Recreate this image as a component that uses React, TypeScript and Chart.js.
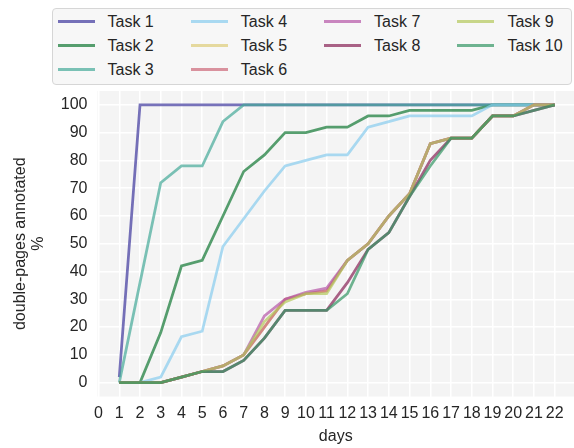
import React, { useEffect, useRef } from 'react';
import { Chart, registerables } from 'chart.js';

Chart.register(...registerables);

const days = [1, 2, 3, 4, 5, 6, 7, 8, 9, 10, 11, 12, 13, 14, 15, 16, 17, 18, 19, 20, 21, 22];

const task1 = [2, 100, 100, 100, 100, 100, 100, 100, 100, 100, 100, 100, 100, 100, 100, 100, 100, 100, 100, 100, 100, 100];
const task2 = [0, 0, 18, 42, 44, 60, 76, 82, 90, 90, 92, 92, 96, 96, 98, 98, 98, 98, 100, 100, 100, 100];
const task3 = [0, 36, 72, 78, 78, 94, 100, 100, 100, 100, 100, 100, 100, 100, 100, 100, 100, 100, 100, 100, 100, 100];
const task4 = [0, 0, 2, 16.5, 18.5, 49, 59, 69, 78, 80, 82, 82, 92, 94, 96, 96, 96, 96, 100, 100, 100, 100];
const task5 = [0, 0, 0, 2, 4, 6, 10, 20, 30, 32, 33, 44, 50, 60, 68, 86, 88, 88, 96, 96, 100, 100];
const task6 = [0, 0, 0, 2, 4, 6, 10, 20, 30, 32, 33, 44, 50, 60, 68, 86, 88, 88, 96, 96, 100, 100];
const task7 = [0, 0, 0, 2, 4, 6, 10, 24, 30, 32.5, 34, 44, 50, 60, 68, 86, 88, 88, 96, 96, 100, 100];
const task8 = [0, 0, 0, 2, 4, 4, 8, 16, 26, 26, 26, 36, 48, 54, 67, 80, 88, 88, 96, 96, 98, 100];
const task9 = [0, 0, 0, 2, 4, 6, 10, 22, 29, 32, 32, 44, 50, 60, 68, 86, 88, 88, 96, 96, 100, 100];
const task10 = [0, 0, 0, 2, 4, 4, 8, 16, 26, 26, 26, 32, 48, 54, 67, 78, 88, 88, 96, 96, 98, 100];

const series = [task1, task2, task3, task4, task5, task6, task7, task8, task9, task10];
const taskNames = ['Task 1', 'Task 2', 'Task 3', 'Task 4', 'Task 5', 'Task 6', 'Task 7', 'Task 8', 'Task 9', 'Task 10'];
const colors = [
  'rgba(61,54,157,0.7)',
  'rgba(17,119,51,0.7)',
  'rgba(68,170,153,0.7)',
  'rgba(136,204,238,0.7)',
  'rgba(221,204,119,0.7)',
  'rgba(204,102,119,0.7)',
  'rgba(181,86,166,0.7)',
  'rgba(136,34,85,0.7)',
  'rgba(180,200,90,0.7)',
  'rgba(51,150,100,0.7)',
];
// legend columns (column-major, 3-3-2-2)
const legendCols = [0, 0, 0, 1, 1, 1, 2, 2, 3, 3];
const legendRows = [0, 1, 2, 0, 1, 2, 0, 1, 0, 1];

const xTicks = [0, 1, 2, 3, 4, 5, 6, 7, 8, 9, 10, 11, 12, 13, 14, 15, 16, 17, 18, 19, 20, 21, 22];
const yTicks = [0, 10, 20, 30, 40, 50, 60, 70, 80, 90, 100];

const FONT = "'Liberation Sans', Arial, sans-serif";
const TEXT = '#262626';

export default function App() {
  const ref = useRef<HTMLCanvasElement | null>(null);

  useEffect(() => {
    if (!ref.current) return;
    const bgPlugin = {
      id: 'plotBg',
      beforeDraw(chart: any) {
        const { ctx, chartArea: a } = chart;
        ctx.save();
        ctx.fillStyle = '#f4f4f4';
        ctx.fillRect(a.left, a.top, a.right - a.left, a.bottom - a.top);
        ctx.restore();
      },
    };
    const chart = new Chart(ref.current, {
      type: 'line',
      data: {
        datasets: series.map((vals, i) => ({
          label: taskNames[i],
          data: days.map((d, j) => ({ x: d, y: vals[j] })),
          borderColor: colors[i],
          backgroundColor: colors[i],
          borderWidth: 2.75,
          pointRadius: 0,
          tension: 0,
          fill: false,
          order: series.length - i,
        })),
      },
      options: {
        responsive: false,
        animation: false,
        layout: { padding: { top: 91, left: 0, right: 0, bottom: 0 } },
        plugins: { legend: { display: false }, tooltip: { enabled: false } },
        scales: {
          x: {
            type: 'linear',
            min: -0.05,
            max: 22.93,
            afterBuildTicks: (s: any) => {
              s.ticks = xTicks.map((v) => ({ value: v }));
            },
            afterFit: (s: any) => {
              s.height = 51.5;
            },
            grid: { color: '#ffffff', lineWidth: 1.5, drawTicks: false },
            border: { display: false },
            ticks: {
              autoSkip: false,
              maxRotation: 0,
              minRotation: 0,
              padding: 7.5,
              color: TEXT,
              font: { family: FONT, size: 16 },
              callback: (v: any) => String(v),
            },
            title: {
              display: true,
              text: 'days',
              color: TEXT,
              font: { family: FONT, size: 16 },
              padding: { top: 0, bottom: 1.5 },
            },
          },
          y: {
            type: 'linear',
            min: -5,
            max: 105,
            afterBuildTicks: (s: any) => {
              s.ticks = yTicks.map((v) => ({ value: v }));
            },
            afterFit: (s: any) => {
              s.width = 97.5;
            },
            grid: { color: '#ffffff', lineWidth: 1.5, drawTicks: false },
            border: { display: false },
            ticks: {
              padding: 10,
              color: TEXT,
              font: { family: FONT, size: 16 },
              callback: (v: any) => String(v),
            },
            title: {
              display: true,
              text: ['double-pages annotated', '%'],
              color: TEXT,
              font: { family: FONT, size: 16, lineHeight: 1.1 },
              padding: { top: 12, bottom: 0 },
            },
          },
        },
      },
      plugins: [bgPlugin],
    } as any);
    return () => chart.destroy();
  }, []);

  return (
    <div style={{ position: 'absolute', left: 0, top: 0, width: 574, height: 448, background: '#ffffff' }}>
      <canvas ref={ref} width={574} height={448} style={{ width: 574, height: 448, display: 'block' }} />
      <div
        style={{
          position: 'absolute',
          left: 51.5,
          top: 7.5,
          width: 518,
          height: 75,
          border: '1px solid #d6d6d6',
          borderRadius: 4,
          background: '#f7f7f7',
          fontFamily: FONT,
          fontSize: 16,
          color: TEXT,
        }}
      >
        {taskNames.map((name, i) => {
          const col = legendCols[i];
          const row = legendRows[i];
          const cy = 13 + row * 24.2;
          const hx = 5 + col * 133.3;
          return (
            <React.Fragment key={name}>
              <div
                style={{
                  position: 'absolute',
                  left: hx,
                  top: cy - 1.5,
                  width: 37,
                  height: 3,
                  background: colors[i],
                }}
              />
              <div
                style={{
                  position: 'absolute',
                  left: hx + 50,
                  top: cy - 10,
                  height: 20,
                  lineHeight: '20px',
                  whiteSpace: 'nowrap',
                }}
              >
                {name}
              </div>
            </React.Fragment>
          );
        })}
      </div>
    </div>
  );
}
